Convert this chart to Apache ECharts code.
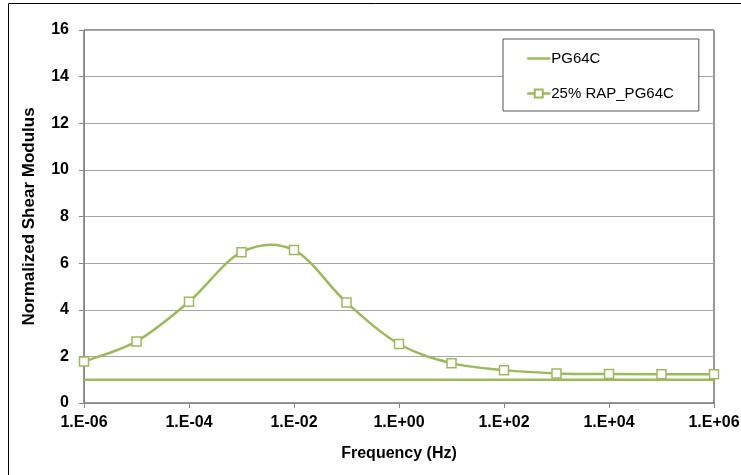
<!DOCTYPE html>
<html>
<head>
<meta charset="utf-8">
<script src="https://cdn.jsdelivr.net/npm/echarts@6/dist/echarts.min.js"></script>
<style>
  html, body { margin: 0; padding: 0; background: #fff; }
  #chart { width: 741px; height: 475px; }
</style>
</head>
<body>
<div id="chart"></div>
<script>
// Frequency sweep (Hz), one point per decade
const frequencies = [1e-6, 1e-5, 1e-4, 1e-3, 1e-2, 1e-1, 1e0, 1e1, 1e2, 1e3, 1e4, 1e5, 1e6];
// Normalized shear modulus of the reference binder (baseline = 1)
const pg64c = [1, 1, 1, 1, 1, 1, 1, 1, 1, 1, 1, 1, 1];
// Normalized shear modulus with 25% RAP
const rap25 = [1.78, 2.64, 4.34, 6.47, 6.56, 4.31, 2.53, 1.71, 1.41, 1.27, 1.24, 1.23, 1.23];
const seriesNames = ['PG64C', '25% RAP_PG64C'];
const yTicks = { min: 0, max: 16, step: 2 };

const green = '#9bbb59';
const font = 'Liberation Sans, Arial, sans-serif';

function sciLabel(v) {
  const e = Math.round(Math.log10(v));
  const s = Math.abs(e) < 10 ? '0' + Math.abs(e) : String(Math.abs(e));
  return '1.E' + (e < 0 ? '-' : '+') + s;
}

// Cardinal (Catmull-Rom style) spline through the projected data points,
// built as one bezier segment per pair of neighbouring points.
function renderSpline(params, api) {
  if (params.dataIndexInside !== 0) return null;
  const n = params.dataInsideLength;
  const pts = [];
  for (let i = 0; i < n; i++) {
    pts.push(api.coord([api.value(0, i), api.value(1, i)]));
  }
  const t = 1 / 6;
  const children = [];
  for (let i = 0; i < n - 1; i++) {
    const p0 = pts[Math.max(i - 1, 0)];
    const p1 = pts[i];
    const p2 = pts[i + 1];
    const p3 = pts[Math.min(i + 2, n - 1)];
    children.push({
      type: 'bezierCurve',
      shape: {
        x1: p1[0], y1: p1[1],
        cpx1: p1[0] + (p2[0] - p0[0]) * t, cpy1: p1[1] + (p2[1] - p0[1]) * t,
        cpx2: p2[0] - (p3[0] - p1[0]) * t, cpy2: p2[1] - (p3[1] - p1[1]) * t,
        x2: p2[0], y2: p2[1]
      },
      style: { fill: null, stroke: green, lineWidth: 2.5 }
    });
  }
  return { type: 'group', children: children };
}

const chart = echarts.init(document.getElementById('chart'), null, { renderer: 'canvas' });
chart.setOption({
  animation: false,
  backgroundColor: '#fff',
  graphic: [{
    type: 'rect',
    shape: { x: 8.5, y: 3.5, width: 760, height: 500 },
    style: { fill: 'none', stroke: '#000', lineWidth: 1 },
    z: 0, silent: true
  }],
  grid: {
    left: 84, right: 27, top: 30, bottom: 72,
    outerBoundsMode: 'none',
    containLabel: false,
    show: true, borderColor: '#333', borderWidth: 1, backgroundColor: 'transparent'
  },
  legend: {
    orient: 'vertical',
    left: 503, top: 39,
    padding: [12, 25, 10, 23],
    itemGap: 20,
    itemWidth: 23, itemHeight: 10,
    borderColor: '#555', borderWidth: 1,
    backgroundColor: '#fff',
    textStyle: { fontFamily: font, fontSize: 15, color: '#000', padding: [0, 0, 0, -4] },
    data: [
      { name: seriesNames[0], icon: 'line', itemStyle: { color: green, borderColor: green, borderWidth: 2.5 } },
      { name: seriesNames[1], lineStyle: { color: green, width: 2.5, opacity: 1 } }
    ]
  },
  xAxis: {
    type: 'log', logBase: 10,
    min: 1e-6, max: 1e6, interval: 2,
    name: 'Frequency (Hz)', nameLocation: 'middle', nameGap: 43,
    nameTextStyle: { fontFamily: font, fontSize: 16, fontWeight: 'bold', color: '#000' },
    axisLine: { lineStyle: { color: '#868686', width: 1 } },
    axisTick: { show: true, inside: false, length: 5, lineStyle: { color: '#868686' } },
    minorTick: { show: false },
    axisLabel: {
      fontFamily: font, fontSize: 16, fontWeight: 'bold', color: '#000', margin: 12,
      formatter: sciLabel
    },
    splitLine: { show: false }
  },
  yAxis: {
    type: 'value',
    min: yTicks.min, max: yTicks.max, interval: yTicks.step,
    name: 'Normalized Shear Modulus', nameLocation: 'middle', nameGap: 46,
    nameTextStyle: { fontFamily: font, fontSize: 17, fontWeight: 'bold', color: '#000' },
    axisLine: { show: true, lineStyle: { color: '#868686', width: 1 } },
    axisTick: { show: true, inside: false, length: 5, lineStyle: { color: '#868686' } },
    axisLabel: { fontFamily: font, fontSize: 16, fontWeight: 'bold', color: '#000', margin: 15 },
    splitLine: { show: true, lineStyle: { color: '#a6a6a6', width: 1 } }
  },
  series: [
    {
      name: seriesNames[0],
      type: 'line',
      data: frequencies.map((f, i) => [f, pg64c[i]]),
      symbol: 'none',
      lineStyle: { color: green, width: 2.5 },
      itemStyle: { color: green },
      z: 3
    },
    {
      type: 'custom',
      renderItem: renderSpline,
      data: frequencies.map((f, i) => [f, rap25[i]]),
      encode: { x: 0, y: 1 },
      silent: true,
      z: 3
    },
    {
      name: seriesNames[1],
      type: 'line',
      data: frequencies.map((f, i) => [f, rap25[i]]),
      symbol: 'rect', symbolSize: 9,
      showAllSymbol: true,
      lineStyle: { color: green, width: 2.5, opacity: 0 },
      itemStyle: { color: '#fff', borderColor: green, borderWidth: 1.5 },
      z: 4
    }
  ]
});
</script>
</body>
</html>
